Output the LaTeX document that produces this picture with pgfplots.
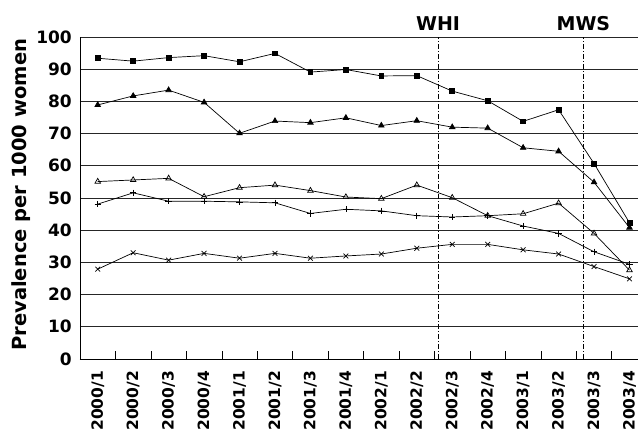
\documentclass[border=0pt]{standalone}
\usepackage{fontspec}
\setmainfont{DejaVu Sans}
\usepackage{pgfplots}
\usepackage{pgfplotstable}
\pgfplotsset{compat=1.18}

% quarter index, then the five series
\pgfplotstableread{
idx  sq    ftri  otri  plus  cross
0    93.4  78.9  55.1  48.1  27.9
1    92.5  81.7  55.6  51.6  33.0
2    93.6  83.5  56.1  49.0  30.7
3    94.2  79.7  50.4  49.0  32.8
4    92.3  70.1  53.2  48.8  31.3
5    94.9  73.9  54.0  48.5  32.8
6    89.1  73.4  52.3  45.2  31.3
7    89.9  74.9  50.3  46.5  32.0
8    87.9  72.5  49.8  46.0  32.6
9    88.0  74.0  54.0  44.5  34.4
10   83.2  72.0  50.1  44.1  35.6
11   80.2  71.7  44.5  44.5  35.6
12   73.8  65.6  45.1  41.3  33.9
13   77.4  64.5  48.4  39.0  32.6
14   60.7  54.9  39.0  33.3  28.7
15   42.3  40.8  27.6  29.4  24.9
}\prev

\begin{document}
\begin{tikzpicture}[x=1pt,y=1pt]
  \begin{axis}[
    scale only axis,
    width=558pt, height=322pt,
    at={(0,0)}, anchor=south west,
    xmin=-0.5, xmax=15.24,
    ymin=0, ymax=100,
    clip=false,
    axis x line=bottom, axis y line=left,
    axis line style={-, line width=0.8pt},
    tick align=inside,
    major tick length=0pt,
    xtick={0,...,15},
    xticklabels={2000/1,2000/2,2000/3,2000/4,2001/1,2001/2,2001/3,2001/4,
                 2002/1,2002/2,2002/3,2002/4,2003/1,2003/2,2003/3,2003/4},
    minor xtick={-0.5,0.5,...,14.5},
    minor tick length=8pt,
    every minor tick/.style={black, line width=0.6pt},
    ytick={0,10,...,100},
    ymajorgrids,
    grid style={black!85, line width=0.6pt},
    /pgf/number format/assume math mode=true,
    xticklabel style={rotate=90, anchor=east, inner sep=0pt,
      font=\bfseries\fontsize{15.5}{15.5}\selectfont},
    xticklabel shift=12pt,
    yticklabel style={anchor=east, inner sep=0pt,
      font=\bfseries\fontsize{17}{17}\selectfont},
    yticklabel shift=8pt,
    ylabel={Prevalence per 1000 women},
    ylabel style={at={(axis description cs:-0.095,0.51)}, anchor=base,
      inner sep=0pt, font=\bfseries\fontsize{19.5}{19.5}\selectfont},
    every axis plot/.append style={black, line width=0.7pt},
  ]
    \addplot[mark=square*, mark size=2.4pt] table[x=idx, y=sq] {\prev};
    \addplot[mark=triangle*, mark size=3.2pt] table[x=idx, y=ftri] {\prev};
    \addplot[mark=triangle, mark size=3.2pt, mark options={fill=white}] table[x=idx, y=otri] {\prev};
    \addplot[mark=+, mark size=3.2pt] table[x=idx, y=plus] {\prev};
    \addplot[mark=x, mark size=3.4pt] table[x=idx, y=cross] {\prev};

    \draw[dash pattern=on 5pt off 2pt on 1pt off 2pt, line width=0.6pt] (axis cs:9.6,0) -- (axis cs:9.6,100);
    \draw[dash pattern=on 5pt off 2pt on 1pt off 2pt, line width=0.6pt] (axis cs:13.7,0) -- (axis cs:13.7,100);
    \node[anchor=base, inner sep=0pt, font=\bfseries\fontsize{19}{19}\selectfont, yshift=6pt] at (axis cs:9.6,100) {WHI};
    \node[anchor=base, inner sep=0pt, font=\bfseries\fontsize{19}{19}\selectfont, yshift=6pt] at (axis cs:13.7,100) {MWS};
  \end{axis}
  \pgfresetboundingbox
  \path[use as bounding box] (-80,-74) rectangle (558,359);
\end{tikzpicture}
\end{document}
